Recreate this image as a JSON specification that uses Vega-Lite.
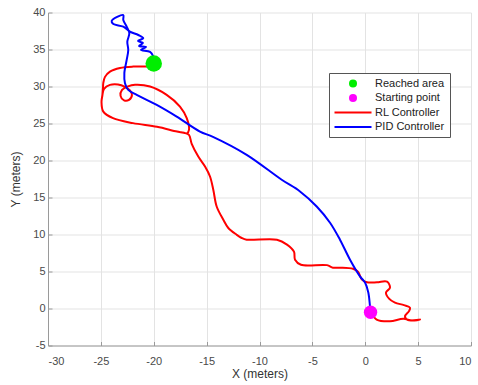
{
  "$schema": "https://vega.github.io/schema/vega-lite/v6.json",
  "width": 423,
  "height": 333,
  "autosize": {"type": "none"},
  "padding": {"left": 48, "top": 12.5, "right": 7, "bottom": 39.5},
  "background": "white",
  "config": {
    "view": {"stroke": null},
    "font": "Liberation Sans",
    "axis": {
      "gridColor": "#e3e3e3",
      "gridWidth": 1,
      "domainColor": "#9a9a9a",
      "tickColor": "#9a9a9a",
      "tickSize": -4,
      "tickCount": 20,
      "labelOverlap": false,
      "labelColor": "#4a4a4a",
      "labelFont": "Liberation Sans",
      "labelFontSize": 11,
      "titleFont": "Liberation Sans",
      "titleFontSize": 12,
      "titleFontWeight": "normal",
      "titleColor": "#333333",
      "labelExpr": "datum.value < 0 ? '-' + abs(datum.value) : '' + datum.value"
    }
  },
  "datasets": {
    "paths": [
      {"series": "RL Controller", "i": 0, "x": 0.52, "y": -0.46},
      {"series": "RL Controller", "i": 1, "x": 1.08, "y": -1.5},
      {"series": "RL Controller", "i": 2, "x": 2.34, "y": -1.73},
      {"series": "RL Controller", "i": 3, "x": 3.6, "y": -1.4},
      {"series": "RL Controller", "i": 4, "x": 4.42, "y": -1.63},
      {"series": "RL Controller", "i": 5, "x": 5.18, "y": -1.5},
      {"series": "RL Controller", "i": 6, "x": 4.04, "y": -1.57},
      {"series": "RL Controller", "i": 7, "x": 3.76, "y": -1.05},
      {"series": "RL Controller", "i": 8, "x": 4.14, "y": -0.35},
      {"series": "RL Controller", "i": 9, "x": 4.23, "y": 0.12},
      {"series": "RL Controller", "i": 10, "x": 3.66, "y": 0.46},
      {"series": "RL Controller", "i": 11, "x": 2.81, "y": 0.8},
      {"series": "RL Controller", "i": 12, "x": 2.25, "y": 1.34},
      {"series": "RL Controller", "i": 13, "x": 1.96, "y": 2.15},
      {"series": "RL Controller", "i": 14, "x": 2.34, "y": 2.82},
      {"series": "RL Controller", "i": 15, "x": 2.06, "y": 3.63},
      {"series": "RL Controller", "i": 16, "x": 1.11, "y": 3.54},
      {"series": "RL Controller", "i": 17, "x": 0.17, "y": 3.54},
      {"series": "RL Controller", "i": 18, "x": -0.31, "y": 3.9},
      {"series": "RL Controller", "i": 19, "x": -0.69, "y": 4.98},
      {"series": "RL Controller", "i": 20, "x": -1.16, "y": 5.38},
      {"series": "RL Controller", "i": 21, "x": -2.39, "y": 5.52},
      {"series": "RL Controller", "i": 22, "x": -3.05, "y": 5.52},
      {"series": "RL Controller", "i": 23, "x": -3.62, "y": 5.86},
      {"series": "RL Controller", "i": 24, "x": -6.08, "y": 5.92},
      {"series": "RL Controller", "i": 25, "x": -6.64, "y": 6.6},
      {"series": "RL Controller", "i": 26, "x": -6.74, "y": 7.68},
      {"series": "RL Controller", "i": 27, "x": -7.4, "y": 8.63},
      {"series": "RL Controller", "i": 28, "x": -8.35, "y": 9.3},
      {"series": "RL Controller", "i": 29, "x": -11.21, "y": 9.3},
      {"series": "RL Controller", "i": 30, "x": -11.68, "y": 9.53},
      {"series": "RL Controller", "i": 31, "x": -12.16, "y": 9.97},
      {"series": "RL Controller", "i": 32, "x": -12.95, "y": 10.88},
      {"series": "RL Controller", "i": 33, "x": -13.42, "y": 12.0},
      {"series": "RL Controller", "i": 34, "x": -14.05, "y": 13.79},
      {"series": "RL Controller", "i": 35, "x": -14.37, "y": 16.05},
      {"series": "RL Controller", "i": 36, "x": -14.68, "y": 17.84},
      {"series": "RL Controller", "i": 37, "x": -15.15, "y": 19.19},
      {"series": "RL Controller", "i": 38, "x": -15.79, "y": 20.54},
      {"series": "RL Controller", "i": 39, "x": -16.41, "y": 22.25},
      {"series": "RL Controller", "i": 40, "x": -16.67, "y": 23.47},
      {"series": "RL Controller", "i": 41, "x": -17.14, "y": 23.74},
      {"series": "RL Controller", "i": 42, "x": -17.8, "y": 23.91},
      {"series": "RL Controller", "i": 43, "x": -19.69, "y": 24.55},
      {"series": "RL Controller", "i": 44, "x": -21.96, "y": 25.05},
      {"series": "RL Controller", "i": 45, "x": -23.85, "y": 25.72},
      {"series": "RL Controller", "i": 46, "x": -24.77, "y": 26.61},
      {"series": "RL Controller", "i": 47, "x": -24.94, "y": 27.92},
      {"series": "RL Controller", "i": 48, "x": -24.85, "y": 28.87},
      {"series": "RL Controller", "i": 49, "x": -24.7, "y": 29.68},
      {"series": "RL Controller", "i": 50, "x": -24.14, "y": 30.22},
      {"series": "RL Controller", "i": 51, "x": -23.38, "y": 30.28},
      {"series": "RL Controller", "i": 52, "x": -22.72, "y": 29.95},
      {"series": "RL Controller", "i": 53, "x": -22.25, "y": 29.47},
      {"series": "RL Controller", "i": 54, "x": -22.06, "y": 28.87},
      {"series": "RL Controller", "i": 55, "x": -22.34, "y": 28.19},
      {"series": "RL Controller", "i": 56, "x": -22.81, "y": 28.12},
      {"series": "RL Controller", "i": 57, "x": -23.14, "y": 28.73},
      {"series": "RL Controller", "i": 58, "x": -23.0, "y": 29.54},
      {"series": "RL Controller", "i": 59, "x": -22.44, "y": 30.01},
      {"series": "RL Controller", "i": 60, "x": -21.77, "y": 30.22},
      {"series": "RL Controller", "i": 61, "x": -20.35, "y": 29.99},
      {"series": "RL Controller", "i": 62, "x": -18.78, "y": 28.87},
      {"series": "RL Controller", "i": 63, "x": -17.52, "y": 27.29},
      {"series": "RL Controller", "i": 64, "x": -16.88, "y": 25.72},
      {"series": "RL Controller", "i": 65, "x": -16.67, "y": 24.14},
      {"series": "RL Controller", "i": 66, "x": -16.86, "y": 23.67},
      {"series": "RL Controller", "i": 67, "x": -17.14, "y": 23.74},
      {"series": "RL Controller", "i": 68, "x": -17.8, "y": 23.91},
      {"series": "RL Controller", "i": 69, "x": -19.69, "y": 24.55},
      {"series": "RL Controller", "i": 70, "x": -21.96, "y": 25.05},
      {"series": "RL Controller", "i": 71, "x": -23.85, "y": 25.72},
      {"series": "RL Controller", "i": 72, "x": -24.77, "y": 26.61},
      {"series": "RL Controller", "i": 73, "x": -24.94, "y": 27.92},
      {"series": "RL Controller", "i": 74, "x": -24.85, "y": 28.87},
      {"series": "RL Controller", "i": 75, "x": -24.8, "y": 29.81},
      {"series": "RL Controller", "i": 76, "x": -24.77, "y": 30.49},
      {"series": "RL Controller", "i": 77, "x": -24.61, "y": 31.3},
      {"series": "RL Controller", "i": 78, "x": -24.14, "y": 32.01},
      {"series": "RL Controller", "i": 79, "x": -23.19, "y": 32.51},
      {"series": "RL Controller", "i": 80, "x": -21.96, "y": 32.69},
      {"series": "RL Controller", "i": 81, "x": -20.64, "y": 32.69},
      {"series": "PID Controller", "i": 0, "x": 0.52, "y": -0.46},
      {"series": "PID Controller", "i": 1, "x": 0.45, "y": 0.3},
      {"series": "PID Controller", "i": 2, "x": 0.29, "y": 2.15},
      {"series": "PID Controller", "i": 3, "x": -0.02, "y": 3.5},
      {"series": "PID Controller", "i": 4, "x": -0.5, "y": 4.35},
      {"series": "PID Controller", "i": 5, "x": -1.44, "y": 6.6},
      {"series": "PID Controller", "i": 6, "x": -2.39, "y": 9.3},
      {"series": "PID Controller", "i": 7, "x": -3.33, "y": 11.59},
      {"series": "PID Controller", "i": 8, "x": -4.59, "y": 13.79},
      {"series": "PID Controller", "i": 9, "x": -6.17, "y": 15.82},
      {"series": "PID Controller", "i": 10, "x": -7.9, "y": 17.4},
      {"series": "PID Controller", "i": 11, "x": -11.21, "y": 20.77},
      {"series": "PID Controller", "i": 12, "x": -14.4, "y": 23.2},
      {"series": "PID Controller", "i": 13, "x": -15.63, "y": 23.91},
      {"series": "PID Controller", "i": 14, "x": -17.83, "y": 25.94},
      {"series": "PID Controller", "i": 15, "x": -19.72, "y": 27.52},
      {"series": "PID Controller", "i": 16, "x": -21.61, "y": 28.87},
      {"series": "PID Controller", "i": 17, "x": -22.41, "y": 29.54},
      {"series": "PID Controller", "i": 18, "x": -22.72, "y": 30.45},
      {"series": "PID Controller", "i": 19, "x": -22.78, "y": 31.8},
      {"series": "PID Controller", "i": 20, "x": -22.56, "y": 33.59},
      {"series": "PID Controller", "i": 21, "x": -22.41, "y": 34.94},
      {"series": "PID Controller", "i": 22, "x": -22.5, "y": 36.06},
      {"series": "PID Controller", "i": 23, "x": -22.31, "y": 37.19},
      {"series": "PID Controller", "i": 24, "x": -22.56, "y": 38.08},
      {"series": "PID Controller", "i": 25, "x": -22.88, "y": 38.99},
      {"series": "PID Controller", "i": 26, "x": -22.88, "y": 39.66},
      {"series": "PID Controller", "i": 27, "x": -23.98, "y": 38.85},
      {"series": "PID Controller", "i": 28, "x": -23.82, "y": 38.45},
      {"series": "PID Controller", "i": 29, "x": -22.88, "y": 38.08},
      {"series": "PID Controller", "i": 30, "x": -22.25, "y": 37.41},
      {"series": "PID Controller", "i": 31, "x": -21.46, "y": 36.96},
      {"series": "PID Controller", "i": 32, "x": -20.99, "y": 36.52},
      {"series": "PID Controller", "i": 33, "x": -21.49, "y": 36.15},
      {"series": "PID Controller", "i": 34, "x": -21.02, "y": 35.88},
      {"series": "PID Controller", "i": 35, "x": -21.39, "y": 35.48},
      {"series": "PID Controller", "i": 36, "x": -20.73, "y": 35.34},
      {"series": "PID Controller", "i": 37, "x": -21.21, "y": 34.94},
      {"series": "PID Controller", "i": 38, "x": -20.35, "y": 34.67},
      {"series": "PID Controller", "i": 39, "x": -20.07, "y": 34.13},
      {"series": "PID Controller", "i": 40, "x": -20.0, "y": 33.6}
    ],
    "points": [
      {"series": "Reached area", "x": -20.0, "y": 33.1},
      {"series": "Starting point", "x": 0.5, "y": -0.5}
    ]
  },
  "layer": [
    {
      "data": {"name": "paths"},
      "mark": {"type": "line", "strokeWidth": 2, "strokeJoin": "round", "interpolate": "catmull-rom", "clip": true},
      "encoding": {
        "x": {
          "field": "x", "type": "quantitative",
          "scale": {"domain": [-30, 10], "nice": false, "zero": false},
          "axis": {"values": [-30, -25, -20, -15, -10, -5, 0, 5, 10], "tickCount": 20, "title": "X (meters)", "grid": true, "titlePadding": 2, "labelPadding": 14}
        },
        "y": {
          "field": "y", "type": "quantitative",
          "scale": {"domain": [-5, 40], "nice": false, "zero": false},
          "axis": {"values": [-5, 0, 5, 10, 15, 20, 25, 30, 35, 40], "tickCount": 20, "title": "Y (meters)", "grid": true, "titlePadding": 10, "labelPadding": 7}
        },
        "color": {
          "field": "series", "type": "nominal",
          "scale": {
            "domain": ["Reached area", "Starting point", "RL Controller", "PID Controller"],
            "range": ["#00ee00", "#ff00ff", "#ff0000", "#0000ff"]
          },
          "legend": {
            "title": null,
            "orient": "none",
            "legendX": 281,
            "legendY": 60.5,
            "direction": "vertical",
            "strokeColor": "#555555",
            "fillColor": "white",
            "padding": 5,
            "rowPadding": 2.5,
            "labelFont": "Liberation Sans",
            "labelFontSize": 11,
            "labelColor": "#222222",
            "symbolType": "stroke",
            "symbolSize": 1369,
            "symbolStrokeWidth": 2,
            "encode": {
              "symbols": {
                "update": {
                  "x": {"value": 19},
                  "shape": {"signal": "datum.value === 'Reached area' || datum.value === 'Starting point' ? 'circle' : 'stroke'"},
                  "size": {"signal": "datum.value === 'Reached area' || datum.value === 'Starting point' ? 64 : 1369"},
                  "fill": [
                    {"test": "datum.value === 'Reached area' || datum.value === 'Starting point'", "scale": "color", "field": "value"},
                    {"value": "transparent"}
                  ],
                  "stroke": {"scale": "color", "field": "value"},
                  "strokeWidth": {"signal": "datum.value === 'Reached area' || datum.value === 'Starting point' ? 0 : 2"},
                  "opacity": {"value": 1}
                }
              },
              "labels": {
                "update": {
                  "x": {"value": 41}
                }
              }
            }
          }
        },
        "detail": {"field": "series"},
        "order": {"field": "i", "type": "quantitative"}
      }
    },
    {
      "data": {"name": "points"},
      "mark": {"type": "point", "filled": true, "opacity": 1},
      "encoding": {
        "x": {"field": "x", "type": "quantitative"},
        "y": {"field": "y", "type": "quantitative"},
        "color": {"field": "series", "type": "nominal"},
        "size": {
          "field": "series", "type": "nominal",
          "scale": {"domain": ["Reached area", "Starting point"], "range": [270, 180]},
          "legend": null
        }
      }
    }
  ]
}
